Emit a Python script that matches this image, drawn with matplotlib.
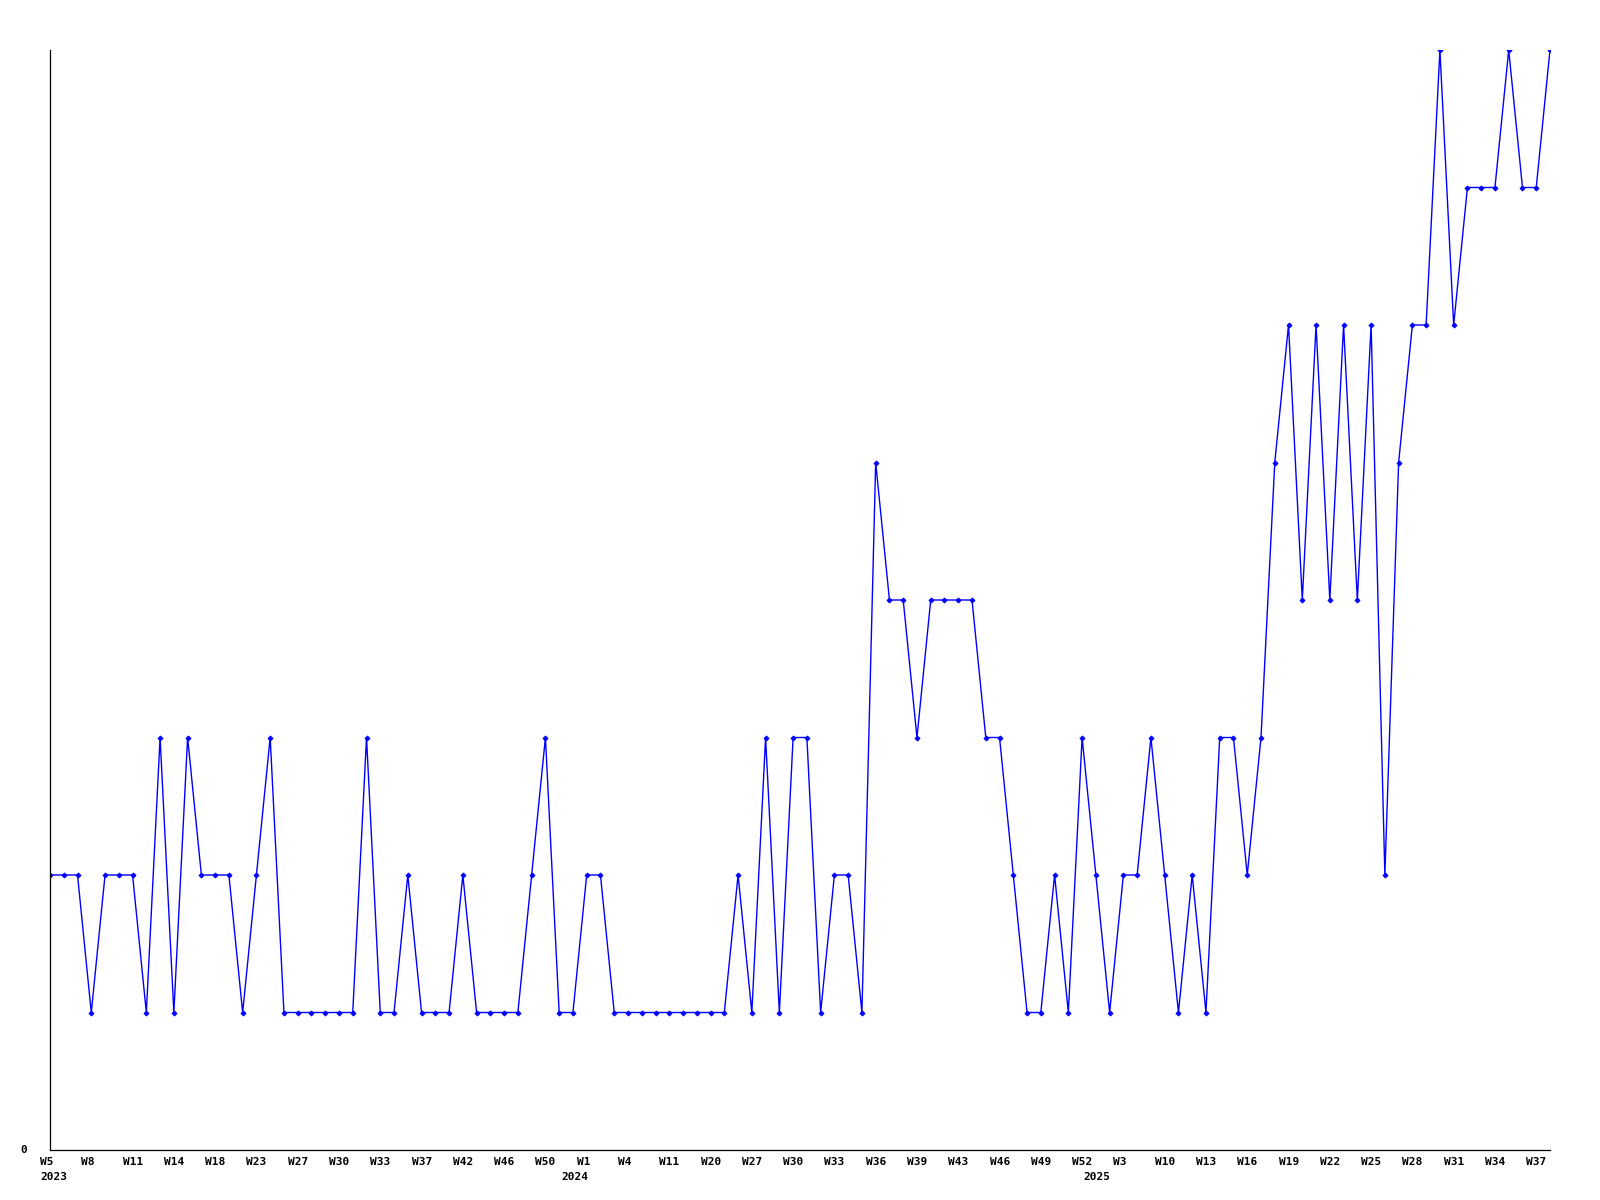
import matplotlib
matplotlib.use("Agg")
import matplotlib.pyplot as plt
import matplotlib.transforms as mtransforms

# weekly counts, one point per week shown
values = [2, 2, 2, 1, 2, 2, 2, 1, 3, 1,
          3, 2, 2, 2, 1, 2, 3, 1, 1, 1,
          1, 1, 1, 3, 1, 1, 2, 1, 1, 1,
          2, 1, 1, 1, 1, 2, 3, 1, 1, 2,
          2, 1, 1, 1, 1, 1, 1, 1, 1, 1,
          2, 1, 3, 1, 3, 3, 1, 2, 2, 1,
          5, 4, 4, 3, 4, 4, 4, 4, 3, 3,
          2, 1, 1, 2, 1, 3, 2, 1, 2, 2,
          3, 2, 1, 2, 1, 3, 3, 2, 3, 5,
          6, 4, 6, 4, 6, 4, 6, 2, 5, 6,
          6, 8, 6, 7, 7, 7, 8, 7, 7, 8]

week_labels = ["W5", "W8", "W11", "W14", "W18", "W23", "W27", "W30", "W33",
               "W37", "W42", "W46", "W50", "W1", "W4", "W11", "W20", "W27",
               "W30", "W33", "W36", "W39", "W43", "W46", "W49", "W52", "W3",
               "W10", "W13", "W16", "W19", "W22", "W25", "W28", "W31", "W34",
               "W37"]
years = ["2023", "2024", "2025"]
year_pos = [0, 37.9, 75.8]   # where the year starts on the week axis

x = list(range(len(values)))

fig = plt.figure(figsize=(16, 12), dpi=100)
ax = fig.add_axes([50/1600, 1 - 1150/1200, 1500/1600, 1100/1200])

ax.plot(x, values, color="#0000ff", linewidth=1.0, marker="D", markersize=2.6,
        markeredgewidth=0.6)

ax.set_xlim(0, len(values) - 1)
ax.set_ylim(0, 8)

for side in ["top", "right"]:
    ax.spines[side].set_visible(False)
for side in ["left", "bottom"]:
    ax.spines[side].set_linewidth(0.9)
    ax.spines[side].set_color("black")

ax.set_xticks([])
ax.set_yticks([])

font = dict(family="DejaVu Sans Mono", weight="bold", size=8)
shift = mtransforms.ScaledTranslation(-10/100, 0, fig.dpi_scale_trans)
trans = mtransforms.blended_transform_factory(ax.transData, fig.transFigure) + shift

for i, lab in enumerate(week_labels):
    ax.text(i * 3, 1 - 1162/1200, lab, transform=trans, ha="left", va="center", **font)
for yr, pos in zip(years, year_pos):
    ax.text(pos, 1 - 1177/1200, yr, transform=trans, ha="left", va="center", **font)

fig.text(20/1600, 1 - 1150/1200, "0", ha="left", va="center", **font)

fig.savefig("out.png", dpi=100, facecolor="white")
